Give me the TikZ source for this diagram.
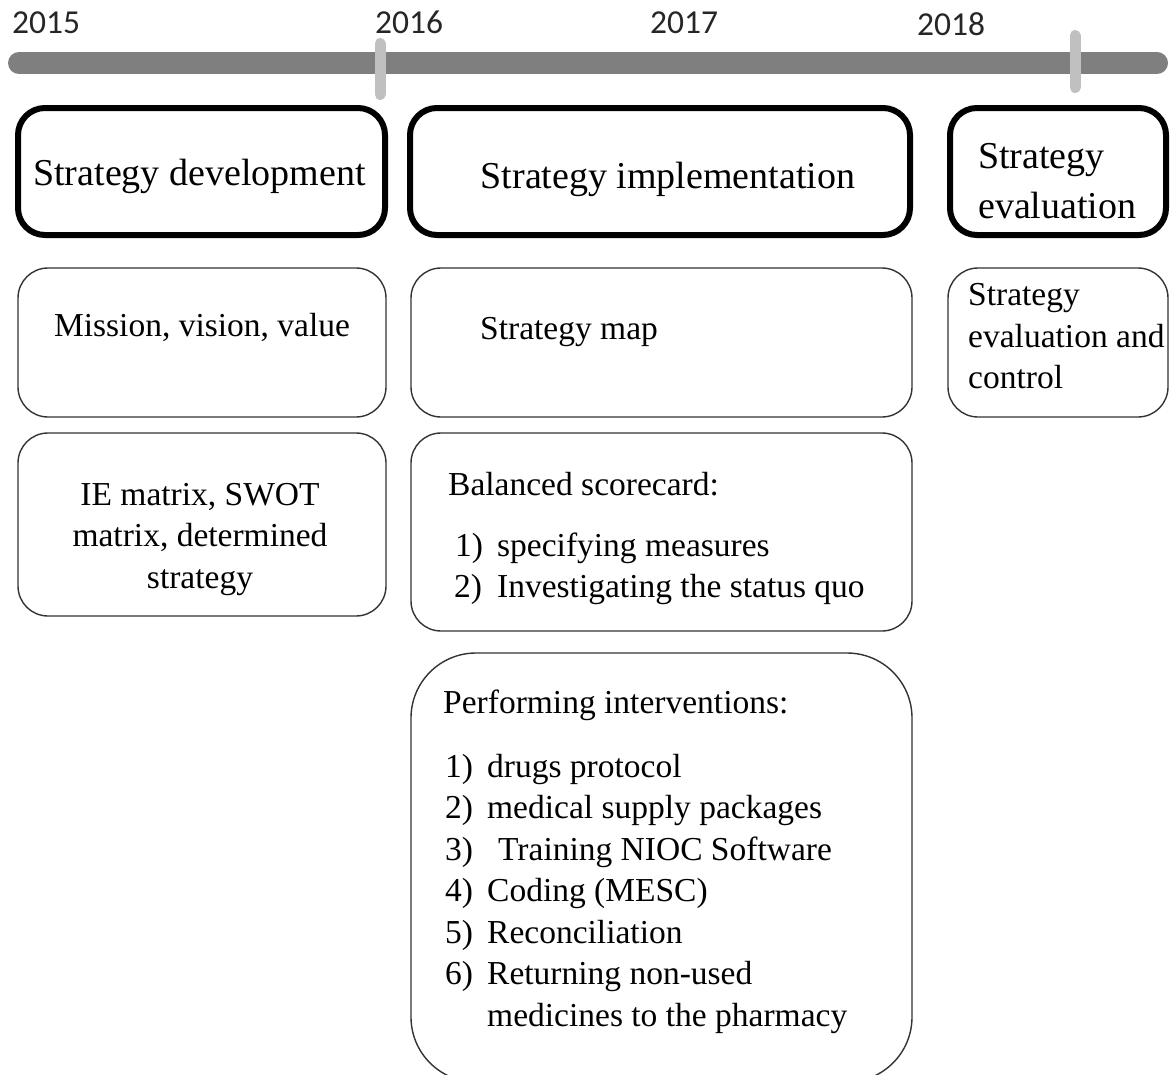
\documentclass[tikz,border=0pt]{standalone}
\usepackage{fontspec}
\setmainfont{Liberation Serif}
\newfontfamily\yearfont{Carlito}
\usepackage{tikz}

\definecolor{bargray}{HTML}{7F7F7F}
\definecolor{tickgray}{HTML}{C0C0C0}
\tikzset{
  headbox/.style={draw=black, line width=6pt, rounded corners=27pt, inner sep=0pt},
  thinbox/.style={draw=black!80, line width=1.4pt, rounded corners=30pt, inner sep=0pt},
  headtext/.style={inner sep=0pt, font=\fontsize{38}{49}\selectfont},
  bodytext/.style={inner sep=0pt, font=\fontsize{33.5}{41.5}\selectfont},
  yeartext/.style={inner sep=0pt, anchor=base west, text=black!85,
    font=\yearfont\fontsize{33.5}{38}\selectfont}
}

\begin{document}
\begin{tikzpicture}[x=1pt,y=-1pt]
\useasboundingbox (0,0) rectangle (1170,1074);
\clip (0,0) rectangle (1170,1074);
% time line
\draw [bargray, line width=22pt, line cap=round] (19,63) -- (1157,63);
\draw [tickgray, line width=11pt, line cap=round] (380,43.5) -- (380,94.5);
\draw [tickgray, line width=11pt, line cap=round] (1075,35.5) -- (1075,87.5);
\node[yeartext] (y2015) at (12,33) {2015};
\node[yeartext] (y2016) at (375,33) {2016};
\node[yeartext] (y2017) at (650,33) {2017};
\node[yeartext] (y2018) at (917,35) {2018};
% phases
\node[headbox, minimum width=367pt, minimum height=127pt] (hdev) at (201.5,171.5) {};
\node[headbox, minimum width=500pt, minimum height=127pt] (himp) at (660,171.5) {};
\node[headbox, minimum width=216pt, minimum height=127pt] (heval) at (1058,171.5) {};
\node[headtext, anchor=base] (tdev) at (199.5,185) {Strategy development};
\node[headtext, anchor=base] (timp) at (668,188) {Strategy implementation};
\node[headtext, anchor=base west] (teval1) at (978,168) {Strategy};
\node[headtext, anchor=base west] (teval2) at (978,218) {evaluation};
% development
\node[thinbox, minimum width=368pt, minimum height=149pt] (mission) at (202,342.5) {};
\node[thinbox, minimum width=368pt, minimum height=183pt] (matrix) at (202,524.5) {};
\node[bodytext, anchor=base] (tmission) at (202,336) {Mission, vision, value};
\node[bodytext, anchor=base] (tmatrix1) at (200,505) {IE matrix, SWOT};
\node[bodytext, anchor=base] (tmatrix2) at (200,546) {matrix, determined};
\node[bodytext, anchor=base] (tmatrix3) at (200,588) {strategy};
% implementation
\node[thinbox, minimum width=501pt, minimum height=149pt] (map) at (661.5,342.5) {};
\node[thinbox, minimum width=501pt, minimum height=198pt] (bsc) at (661.5,532) {};
\node[thinbox, rounded corners=65pt, minimum width=501pt, minimum height=429pt] (interv) at (661.5,867.5) {};
\node[bodytext, anchor=base west] (tmap) at (480,339) {Strategy map};
\node[bodytext, anchor=base west] (tbsc) at (448,495) {Balanced scorecard:};
\node[bodytext, anchor=base west] (tbsc1) at (455,556) {\makebox[42pt][l]{1)}specifying measures};
\node[bodytext, anchor=base west] (tbsc2) at (454,597) {\makebox[43pt][l]{2)}Investigating the status quo};
\node[bodytext, anchor=base west] (tinterv) at (443,713) {Performing interventions:};
\foreach \txt [count=\k] in {drugs protocol, medical supply packages,
    \hspace{11pt}Training NIOC Software, Coding (MESC), Reconciliation,
    Returning non-used}{
  \node[bodytext, anchor=base west] (int\k) at (445,735.5+41.5*\k) {\makebox[42pt][l]{\k)}\txt};
}
\node[bodytext, anchor=base west] (int7) at (487,1026) {medicines to the pharmacy};
% evaluation
\node[thinbox, minimum width=220pt, minimum height=149pt] (control) at (1058,342.5) {};
\node[bodytext, anchor=base west] (tcontrol1) at (968,305) {Strategy};
\node[bodytext, anchor=base west] (tcontrol2) at (968,347) {evaluation and};
\node[bodytext, anchor=base west] (tcontrol3) at (968,388) {control};
\end{tikzpicture}
\end{document}
